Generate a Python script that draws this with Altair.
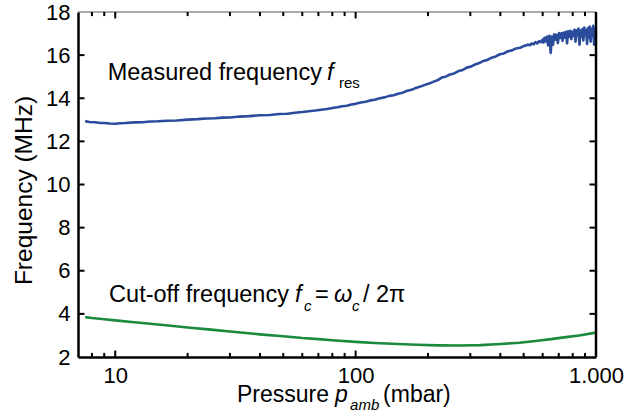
import altair as alt
import pandas as pd

# ---------------- data ----------------
pressure_meas = [7.5, 7.8, 8.2, 8.6, 9.0, 9.5, 10, 10.5, 11, 12, 13, 14, 15, 16.5, 18, 20, 22, 24, 26, 28,
                 30, 33, 36, 40, 44, 48, 52, 56, 60,
                 64, 68, 72, 76, 80, 84, 88, 92, 96, 100, 105, 110, 115, 120, 126, 132, 138, 144, 150, 157,
                 164, 171, 178, 186, 194, 202, 210, 219, 228, 237, 247, 257, 268, 279, 290, 302, 314, 327,
                 340, 354, 368, 383, 398, 414, 430, 447, 465, 483, 500,
                 510, 520, 530, 540, 550, 560, 570, 580, 590, 600, 605, 610, 618, 625, 632, 640, 648, 655,
                 662, 670, 678, 686, 694, 702, 710, 718, 726, 734, 742, 750, 758, 766, 774, 782, 790, 798,
                 806, 814, 822, 830, 838, 846, 854, 862, 870, 878, 886, 894, 902, 910, 918, 926, 934, 942,
                 950, 958, 966, 974, 982, 990, 996, 1000]
freq_meas = [12.94, 12.90, 12.89, 12.86, 12.85, 12.83, 12.82, 12.84, 12.85, 12.88, 12.89, 12.92, 12.93,
             12.96, 12.97, 13.01, 13.03, 13.06, 13.07, 13.10, 13.11, 13.15, 13.17, 13.21, 13.22, 13.27,
             13.28, 13.33, 13.36,
             13.40, 13.43, 13.47, 13.50, 13.55, 13.58, 13.63, 13.65, 13.71, 13.74, 13.80, 13.84, 13.90,
             13.93, 14.00, 14.04, 14.11, 14.14, 14.21, 14.26, 14.35, 14.39, 14.48, 14.54, 14.62, 14.68,
             14.76, 14.83, 14.96, 15.00, 15.10, 15.15, 15.26, 15.31, 15.42, 15.47, 15.57, 15.63, 15.73,
             15.78, 15.88, 15.94, 16.04, 16.08, 16.18, 16.22, 16.31, 16.34, 16.42,
             16.44, 16.49, 16.46, 16.54, 16.50, 16.60, 16.54, 16.65, 16.60, 16.72, 16.58, 16.80, 16.64,
             16.86, 16.45, 16.90, 16.10, 16.86, 16.48, 16.96, 16.72, 16.95, 16.56, 17.02, 16.80, 17.01,
             16.66, 17.05, 16.82, 17.08, 16.55, 17.11, 16.85, 17.13, 16.74, 17.08, 16.90, 17.18, 16.62,
             17.15, 16.92, 17.23, 16.48, 17.14, 16.86, 17.21, 16.68, 17.28, 16.92, 17.16, 16.52, 17.25,
             16.82, 17.32, 16.62, 17.22, 16.88, 17.36, 16.48, 17.24, 16.78, 17.06]

pressure_cut = [7.5, 8, 9, 10, 12, 14, 17, 20, 25, 30, 35, 40, 50, 60, 70, 80, 100, 120, 150, 180,
                220, 270, 330, 400, 480, 560, 650, 750, 850, 1000]
freq_cut = [3.85, 3.81, 3.75, 3.70, 3.61, 3.54, 3.45, 3.37, 3.27, 3.18, 3.11, 3.05, 2.96, 2.88, 2.83,
            2.78, 2.70, 2.65, 2.60, 2.57, 2.54, 2.53, 2.55, 2.60, 2.66, 2.74, 2.83, 2.92, 3.00, 3.13]

x_major = [10, 100, 1000]
x_minor = [8, 9, 20, 30, 40, 50, 60, 70, 80, 90, 200, 300, 400, 500, 600, 700, 800, 900]
y_ticks = [4, 6, 8, 10, 12, 14, 16]
x_edges = [7, 1000]
y_edges = [2, 18]
# inner ends of the inward ticks (axis units)
y_tick_end_major = [2.30, 17.70]
y_tick_end_minor = [2.19, 17.81]
x_tick_end = [7.45, 940]

# annotation pieces: text, anchor pressure, anchor frequency, dx, dy, size, italic, align
annot_text = ["Measured frequency", "f", "res",
              "Cut-off frequency", "f", "c", "=", "ω", "c", "/", "2π",
              "Pressure", "p", "amb", "(mbar)"]
annot_p = [72.4, 72.4, 72.4,
           52.8, 52.8, 52.8, 52.8, 52.8, 52.8, 52.8, 52.8,
           76.8, 76.8, 76.8, 76.8]
annot_f = [14.85, 14.85, 14.85,
           4.55, 4.55, 4.55, 4.55, 4.55, 4.55, 4.55, 4.55,
           -0.09, -0.09, -0.09, -0.09]
annot_dx = [0, 5, 17, 0, 6, 15, 26, 45, 63, 74, 87, 1, 7, 22, 55]
annot_dy = [0, 0, 8, 0, 0, 9, 0, 0, 9, 0, 0, 0, 0, 8, 0]
annot_size = [23.5, 23.5, 15, 23.5, 23.5, 15, 23.5, 23.5, 15, 23.5, 23.5, 23, 23, 15, 23]
annot_italic = [False, True, False, False, True, True, False, True, True, False, False,
                False, True, True, False]
annot_align = ["right", "left", "left", "right", "left", "left", "left", "left", "left", "left", "left",
               "right", "left", "left", "left"]

# ---------------- chart ----------------
FONT = "Liberation Sans"
BLUE = "#2B4C9D"
GREEN = "#1B8A3C"

xs = alt.Scale(type="log", domain=x_edges, nice=False)
ys = alt.Scale(domain=y_edges, nice=False, zero=False)

bottom_axis = alt.Axis(
    orient="bottom", values=x_major,
    labelExpr="datum.value == 1000 ? '1.000' : format(datum.value, 'd')",
    ticks=False, domainColor="black", domainWidth=2.5,
    labelFont=FONT, labelFontSize=22, labelColor="black", labelPadding=8,
    labelOverlap=False, labelFlush=False, grid=False, title=None)
left_axis = alt.Axis(
    orient="left", values=[2] + y_ticks + [18], ticks=False,
    domainColor="black", domainWidth=2.5,
    labelFont=FONT, labelFontSize=22, labelColor="black", labelPadding=8, labelOverlap=False,
    grid=False, title="Frequency (MHz)", titleFont=FONT, titleFontSize=24.5,
    titleFontWeight="normal", titleColor="black", titlePadding=9, titleY=178)


def X(field):
    return alt.X(field, scale=xs, axis=bottom_axis)


def Y(field):
    return alt.Y(field, scale=ys, axis=left_axis)


df_meas = pd.DataFrame({"p": pressure_meas, "f": freq_meas})
df_cut = pd.DataFrame({"p": pressure_cut, "f": freq_cut})

blue = alt.Chart(df_meas).mark_line(color=BLUE, strokeWidth=2.6, strokeJoin="round").encode(
    x=X("p:Q"), y=Y("f:Q"))
green = alt.Chart(df_cut).mark_line(color=GREEN, strokeWidth=2.6, strokeJoin="round").encode(
    x=X("p:Q"), y=Y("f:Q"))

# top (thin) and right (thick) frame lines, through the scales
df_top = pd.DataFrame({"p": [x_edges[0]], "p2": [x_edges[1]], "f": [y_edges[1]], "f2": [y_edges[1]]})
df_right = pd.DataFrame({"p": [x_edges[1]], "p2": [x_edges[1]], "f": [y_edges[0]], "f2": [y_edges[1]]})
top_line = alt.Chart(df_top).mark_rule(color="#555555", strokeWidth=1).encode(
    x=X("p:Q"), x2="p2:Q", y=Y("f:Q"), y2="f2:Q")
right_line = alt.Chart(df_right).mark_rule(color="black", strokeWidth=2.5).encode(
    x=X("p:Q"), x2="p2:Q", y=Y("f:Q"), y2="f2:Q")

# inward ticks on all four sides: short rules drawn through the scales
tick_rows = []
for vals, y0, y1 in [(x_major, y_edges[0], y_tick_end_major[0]),
                     (x_minor, y_edges[0], y_tick_end_minor[0]),
                     (x_major, y_edges[1], y_tick_end_major[1]),
                     (x_minor, y_edges[1], y_tick_end_minor[1])]:
    for v in vals:
        tick_rows.append({"p": v, "p2": v, "f": y0, "f2": y1})
for x0, x1 in [(x_edges[0], x_tick_end[0]), (x_edges[1], x_tick_end[1])]:
    for v in y_ticks:
        tick_rows.append({"p": x0, "p2": x1, "f": v, "f2": v})
df_ticks = pd.DataFrame(tick_rows)

ticks = alt.Chart(df_ticks).mark_rule(color="black", strokeWidth=2).encode(
    x=X("p:Q"), x2="p2:Q", y=Y("f:Q"), y2="f2:Q")

pieces = []
for i in range(len(annot_text)):
    d = pd.DataFrame({"p": [annot_p[i]], "f": [annot_f[i]], "t": [annot_text[i]]})
    pieces.append(
        alt.Chart(d).mark_text(
            align=annot_align[i], baseline="alphabetic", dx=annot_dx[i], dy=annot_dy[i],
            fontSize=annot_size[i], fontStyle="italic" if annot_italic[i] else "normal",
            font=FONT, color="black").encode(
            x=X("p:Q"), y=Y("f:Q"), text="t:N"))

chart = alt.layer(blue, green, top_line, right_line, ticks, *pieces).properties(
    width=518, height=345,
    autosize=alt.AutoSizeParams(type="none"),
    padding={"left": 78, "top": 12, "right": 35, "bottom": 59},
    background="white",
).configure_view(stroke=None)

chart.save("out.html", embed_options={"renderer": "svg", "actions": False})
